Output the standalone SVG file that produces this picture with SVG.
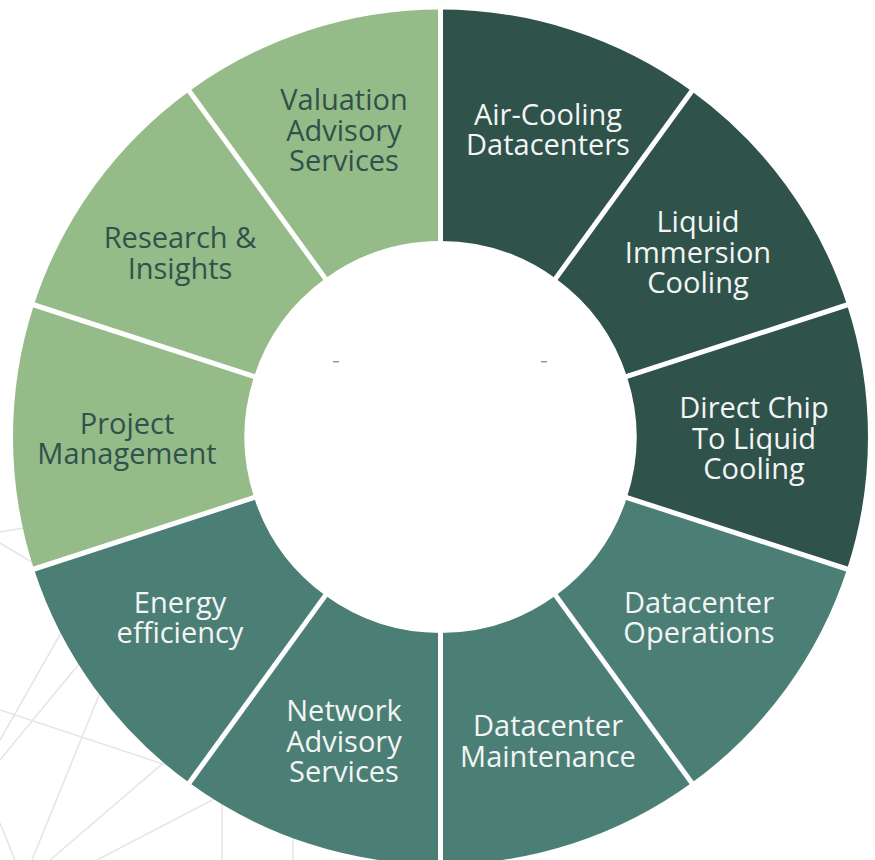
<svg xmlns="http://www.w3.org/2000/svg" width="875" height="860" viewBox="0 0 875 860">
<style>
.bg{stroke:#e6e6e6;stroke-width:1.6;fill:none}
.dark{fill:#2f524b}
.teal{fill:#4b7f75}
.light{fill:#95bb88}
.div{stroke:#ffffff;stroke-width:5;stroke-linecap:butt}
text{font-family:"Open Sans","Liberation Sans",sans-serif;font-size:29px;text-anchor:middle}
.tw{fill:#f3f5f4}
.td{fill:#2f524b}
</style>
<rect width="875" height="860" fill="#ffffff"/>
<g id="background-lines">
<line class="bg" x1="0" y1="532" x2="30" y2="527"/>
<line class="bg" x1="0" y1="543" x2="40" y2="567"/>
<line class="bg" x1="70" y1="617" x2="0" y2="740"/>
<line class="bg" x1="92" y1="648" x2="0" y2="760"/>
<line class="bg" x1="108" y1="673" x2="32" y2="860"/>
<line class="bg" x1="0" y1="710" x2="175" y2="768"/>
<line class="bg" x1="175" y1="753" x2="50" y2="860"/>
<line class="bg" x1="218" y1="797" x2="97" y2="860"/>
<line class="bg" x1="0" y1="823" x2="15" y2="860"/>
<line class="bg" x1="222" y1="800" x2="222" y2="860"/>
<line class="bg" x1="293" y1="835" x2="293" y2="860"/>
</g>
<g id="n-air-cooling">
<path class="dark" d="M440.5,9.5 A427.5,427.5 0 0 1 691.78,91.15 L555.71,278.43 A196,196 0 0 0 440.5,241 Z"/>
<text class="tw"><tspan x="548" y="125">Air-Cooling</tspan><tspan x="548" y="155">Datacenters</tspan></text>
</g>
<g id="n-liquid-immersion">
<path class="dark" d="M691.78,91.15 A427.5,427.5 0 0 1 847.08,304.9 L626.91,376.43 A196,196 0 0 0 555.71,278.43 Z"/>
<text class="tw"><tspan x="698" y="232">Liquid</tspan><tspan x="698" y="263">Immersion</tspan><tspan x="698" y="293">Cooling</tspan></text>
</g>
<g id="n-direct-chip">
<path class="dark" d="M847.08,304.9 A427.5,427.5 0 0 1 847.08,569.1 L626.91,497.57 A196,196 0 0 0 626.91,376.43 Z"/>
<text class="tw"><tspan x="754" y="418">Direct Chip</tspan><tspan x="754" y="449">To Liquid</tspan><tspan x="754" y="479">Cooling</tspan></text>
</g>
<g id="n-dc-operations">
<path class="teal" d="M847.08,569.1 A427.5,427.5 0 0 1 691.78,782.85 L555.71,595.57 A196,196 0 0 0 626.91,497.57 Z"/>
<text class="tw"><tspan x="699" y="613">Datacenter</tspan><tspan x="699" y="643">Operations</tspan></text>
</g>
<g id="n-dc-maintenance">
<path class="teal" d="M691.78,782.85 A427.5,427.5 0 0 1 440.5,864.5 L440.5,633 A196,196 0 0 0 555.71,595.57 Z"/>
<text class="tw"><tspan x="548" y="736">Datacenter</tspan><tspan x="548" y="767">Maintenance</tspan></text>
</g>
<g id="n-network-advisory">
<path class="teal" d="M440.5,864.5 A427.5,427.5 0 0 1 189.22,782.85 L325.29,595.57 A196,196 0 0 0 440.5,633 Z"/>
<text class="tw"><tspan x="344" y="721">Network</tspan><tspan x="344" y="752">Advisory</tspan><tspan x="344" y="782">Services</tspan></text>
</g>
<g id="n-energy-efficiency">
<path class="teal" d="M189.22,782.85 A427.5,427.5 0 0 1 33.92,569.1 L254.09,497.57 A196,196 0 0 0 325.29,595.57 Z"/>
<text class="tw"><tspan x="180" y="613">Energy</tspan><tspan x="180" y="643">efficiency</tspan></text>
</g>
<g id="n-project-management">
<path class="light" d="M33.92,569.1 A427.5,427.5 0 0 1 33.92,304.9 L254.09,376.43 A196,196 0 0 0 254.09,497.57 Z"/>
<text class="td"><tspan x="127" y="434">Project</tspan><tspan x="127" y="464">Management</tspan></text>
</g>
<g id="n-research-insights">
<path class="light" d="M33.92,304.9 A427.5,427.5 0 0 1 189.22,91.15 L325.29,278.43 A196,196 0 0 0 254.09,376.43 Z"/>
<text class="td"><tspan x="180" y="248">Research &amp;</tspan><tspan x="180" y="279">Insights</tspan></text>
</g>
<g id="n-valuation-advisory">
<path class="light" d="M189.22,91.15 A427.5,427.5 0 0 1 440.5,9.5 L440.5,241 A196,196 0 0 0 325.29,278.43 Z"/>
<text class="td"><tspan x="344" y="110">Valuation</tspan><tspan x="344" y="141">Advisory</tspan><tspan x="344" y="171">Services</tspan></text>
</g>
<g id="connectors">
<line class="div" x1="440.5" y1="245" x2="440.5" y2="5"/>
<line class="div" x1="553.4" y1="281.6" x2="694.4" y2="87.5"/>
<line class="div" x1="623.1" y1="377.7" x2="851.4" y2="303.5"/>
<line class="div" x1="623.1" y1="496.3" x2="851.4" y2="570.5"/>
<line class="div" x1="553.4" y1="592.4" x2="694.4" y2="786.5"/>
<line class="div" x1="440.5" y1="629" x2="440.5" y2="869"/>
<line class="div" x1="327.6" y1="592.4" x2="186.6" y2="786.5"/>
<line class="div" x1="257.9" y1="496.3" x2="29.6" y2="570.5"/>
<line class="div" x1="257.9" y1="377.7" x2="29.6" y2="303.5"/>
<line class="div" x1="327.6" y1="281.6" x2="186.6" y2="87.5"/>
</g>
<g id="marks">
<rect x="333" y="361" width="6" height="1.5" fill="#9a9a9a"/>
<rect x="541" y="361" width="6" height="1.5" fill="#9a9a9a"/>
</g>
</svg>
